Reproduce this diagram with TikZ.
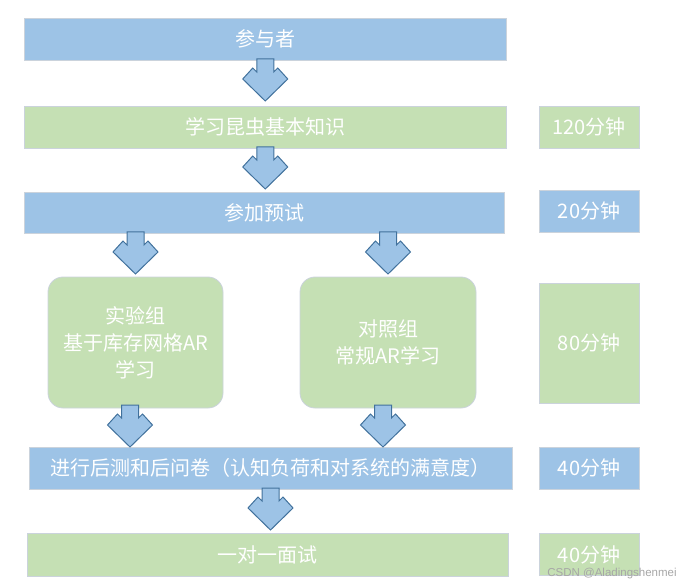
\documentclass[tikz,border=0pt]{standalone}
\usepackage{fontspec}
\setmainfont{Noto Sans CJK SC}
\newfontfamily\wmfont{Liberation Sans}
\usetikzlibrary{positioning}

\definecolor{boxblue}{HTML}{9DC3E6}
\definecolor{boxgreen}{HTML}{C5E0B4}
\definecolor{arrowline}{HTML}{41719C}
\definecolor{boxline}{HTML}{CBD3DC}

% block arrow hanging below a point
\newcommand{\blockarrow}[1]{%
  \draw[barrow] (#1) ++(-8.5,-1) -- ++(0,13) -- ++(-4,-4) -- ++(-10,11) -- ++(22.5,22)
    -- ++(22.5,-22) -- ++(-10,-11) -- ++(-4,4) -- ++(0,-13) -- cycle;}

\begin{document}
\begin{tikzpicture}[
    x=1pt, y=-1pt,
    stage/.style={rectangle, draw=boxline, line width=0.8pt, text=white, inner sep=0pt, outer sep=0pt,
      font=\fontsize{20}{27}\selectfont, align=center},
    bluestage/.style={stage, fill=boxblue, minimum width=481.5pt, minimum height=42pt},
    greenstage/.style={stage, fill=boxgreen, minimum width=481.5pt, minimum height=42pt},
    groupbox/.style={stage, fill=boxgreen, rounded corners=15pt, minimum width=175pt, minimum height=131pt},
    timebox/.style={stage, minimum width=100pt, minimum height=41.5pt},
    barrow/.style={fill=boxblue, draw=arrowline, line width=1pt, line join=miter},
    watermark/.style={text=gray!70, font=\wmfont\fontsize{11.5}{13}\selectfont, inner sep=0pt}
]
\useasboundingbox (0,0) rectangle (688,588);

% main flow
\node[bluestage] (part) at (265.25,39) {参与者};
\node[greenstage, below=46.5pt of part, minimum height=41.5pt] (learn) {学习昆虫基本知识};
\node[bluestage, below=44pt of learn, xshift=-1pt, minimum width=479.5pt, minimum height=41pt] (pre) {参加预试};

% two groups
\node[groupbox, below right=44pt and 23.5pt of pre.south west] (exp) {实验组\\基于库存网格AR\\学习};
\node[groupbox, right=77pt of exp, minimum width=176pt] (ctrl) {对照组\\常规AR学习};

\node[bluestage, below=214pt of pre, xshift=6.25pt, minimum width=483pt] (post) {进行后测和后问卷（认知负荷和对系统的满意度）};
\node[greenstage, below=44pt of post, xshift=-3pt, minimum width=481pt, minimum height=43pt] (inter) {一对一面试};

% durations
\node[timebox, fill=boxgreen, right=33pt of learn] (t1) {120分钟};
\node[timebox, fill=boxblue, right=35pt of pre, yshift=1.5pt, minimum height=42pt] (t2) {20分钟};
\node[timebox, fill=boxgreen, below=51pt of t2, minimum height=120pt] (t3) {80分钟};
\node[timebox, fill=boxblue, right=27pt of post, minimum height=42pt] (t4) {40分钟};
\node[timebox, fill=boxgreen, right=31pt of inter, minimum height=42pt] (t5) {40分钟};

% arrows
\blockarrow{part.south}
\blockarrow{learn.south}
\blockarrow{pre.south -| exp.north}
\blockarrow{pre.south -| ctrl.north}
\blockarrow{[xshift=-5.5pt,yshift=2pt]exp.south}
\blockarrow{[xshift=-5pt,yshift=2pt]ctrl.south}
\blockarrow{post.south}

\node[watermark] (wm) at (612,574) {CSDN @Aladingshenmei};
\end{tikzpicture}
\end{document}
